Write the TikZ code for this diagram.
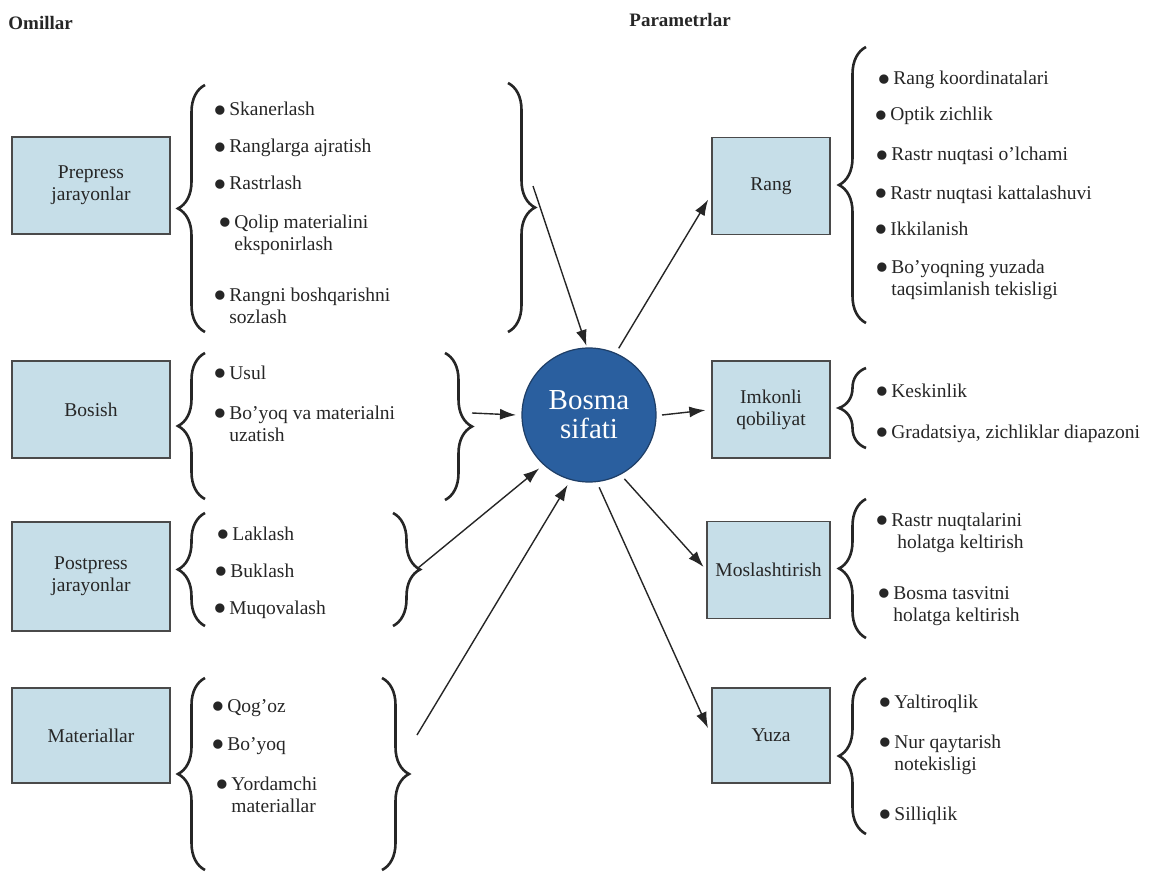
\documentclass[tikz,border=0pt]{standalone}
\usepackage{fontspec}
\setmainfont{Liberation Serif}
\usetikzlibrary{arrows.meta,decorations.pathreplacing}
\definecolor{ink}{HTML}{262626}
\definecolor{boxfill}{HTML}{C6DEE8}
\definecolor{boxline}{HTML}{4A4A4A}
\definecolor{hubblue}{HTML}{2A5F9F}
\definecolor{hubline}{HTML}{1E3E66}
\newcommand{\bul}{\llap{\raisebox{-3.6pt}{\scalebox{2}{\textbullet}}\hspace{1pt}}}
\tikzset{
  factbox/.style={draw=boxline, fill=boxfill, line width=0.7pt, minimum width=79pt,
                  minimum height=48.5pt, align=center, text=ink, inner sep=2pt,
                  font=\fontsize{9.75}{11}\selectfont},
  hub/.style={circle, draw=hubline, fill=hubblue, line width=0.6pt, minimum size=67pt,
              outer sep=3pt, align=center, text=white, font=\fontsize{14.5}{14.5}\selectfont},
  itm/.style={anchor=base west, align=left, inner sep=0pt, text=ink,
              font=\fontsize{9.75}{11}\selectfont},
  ttl/.style={anchor=base west, inner sep=0pt, text=ink, font=\fontsize{9.5}{11}\selectfont\bfseries},
  brc/.style={decorate, decoration={brace, amplitude=13.5pt}, line width=1.3pt, draw=ink},
  arr/.style={-{Latex[length=8pt,width=5.5pt]}, line width=0.7pt, draw=ink}}

\begin{document}
\begin{tikzpicture}[x=0.5pt, y=-0.5pt]
  \useasboundingbox (0,0) rectangle (1152,872);
  \node[ttl] (omil) at (8,30) {Omillar};
  \node[ttl] (param) at (629,27) {Parametrlar};

  \node[factbox] (pre) at (91,185.5) {Prepress\\jarayonlar};
  \node[factbox] (bos) at (91,409.5) {Bosish};
  \node[factbox, minimum height=54.5pt] (post) at (91,576.5) {Postpress\\jarayonlar};
  \node[factbox, minimum height=47.5pt] (mat) at (91,735.5) {Materiallar};
  \node[factbox, minimum width=59pt] (rang) at (771,186) {Rang};
  \node[factbox, minimum width=59pt] (imk) at (771,409.5) {Imkonli\\qobiliyat};
  \node[factbox, minimum width=61.5pt, inner sep=1pt] (mosl) at (768.5,570) {Moslashtirish};
  \node[factbox, minimum width=59pt, minimum height=47.5pt] (yuza) at (771,735.5) {Yuza};

  \node[hub] (q) at (589,415) {Bosma\\sifati};

  \draw[brc] (205,332) -- (205,85);
  \draw[brc] (508,83) -- (508,332);
  \draw[brc] (205,499) -- (205,353);
  \draw[brc] (445,353) -- (445,500);
  \draw[brc] (205,626) -- (205,513);
  \draw[brc] (393,513) -- (393,626);
  \draw[brc] (205,870) -- (205,678);
  \draw[brc] (382,678) -- (382,870);
  \draw[brc] (866,323) -- (866,47);
  \draw[brc] (866,448) -- (866,368);
  \draw[brc] (866,638) -- (866,499);
  \draw[brc] (866,834) -- (866,678);

  \node[itm] (pre1) at (229,116) {\bul Skanerlash};
  \node[itm] (pre2) at (229,153) {\bul Ranglarga ajratish};
  \node[itm] (pre3) at (229,190) {\bul Rastrlash};
  \node[itm] (pre4) at (234,250) {\bul Qolip materialini\\eksponirlash};
  \node[itm] (pre5) at (229,323) {\bul Rangni boshqarishni\\sozlash};
  \node[itm] (bos1) at (229,379) {\bul Usul};
  \node[itm] (bos2) at (229,441) {\bul Bo’yoq va materialni\\uzatish};
  \node[itm] (post1) at (232,540) {\bul Laklash};
  \node[itm] (post2) at (230,577) {\bul Buklash};
  \node[itm] (post3) at (229,614) {\bul Muqovalash};
  \node[itm] (mat1) at (227,712) {\bul Qog’oz};
  \node[itm] (mat2) at (227,750) {\bul Bo’yoq};
  \node[itm] (mat3) at (231,812) {\bul Yordamchi\\materiallar};

  \node[itm] (rang1) at (893,85) {\bul Rang koordinatalari};
  \node[itm] (rang2) at (890,121) {\bul Optik zichlik};
  \node[itm] (rang3) at (891,161) {\bul Rastr nuqtasi o’lchami};
  \node[itm] (rang4) at (890,199) {\bul Rastr nuqtasi kattalashuvi};
  \node[itm] (rang5) at (890,235) {\bul Ikkilanish};
  \node[itm] (rang6) at (891,295) {\bul Bo’yoqning yuzada\\taqsimlanish tekisligi};
  \node[itm] (imk1) at (891,397) {\bul Keskinlik};
  \node[itm] (imk2) at (891,438) {\bul Gradatsiya, zichliklar diapazoni};
  \node[itm] (mosl1) at (891,548) {\bul Rastr nuqtalarini\\\hspace*{3pt}holatga keltirish};
  \node[itm] (mosl2) at (893,621) {\bul Bosma tasvitni\\holatga keltirish};
  \node[itm] (yuza1) at (894,708) {\bul Yaltiroqlik};
  \node[itm] (yuza2) at (894,770) {\bul Nur qaytarish\\notekisligi};
  \node[itm] (yuza3) at (894,820) {\bul Silliqlik};

  \coordinate (preout) at (533,186);
  \coordinate (bosout) at (472,413);
  \coordinate (postout) at (418,568);
  \coordinate (matout) at (417,735);
  \draw[arr, shorten >=-2pt] (preout) -- (q.93);
  \draw[arr] (bosout) -- (q.180);
  \draw[arr] (postout) -- (q.227);
  \draw[arr] (matout) -- (q.253);
  \draw[arr, shorten >=3pt] (q.66) -- (rang.188);
  \draw[arr, shorten >=3pt] (q.0) -- (imk.west);
  \draw[arr, shorten >=2pt] (q.299) -- (mosl.west);
  \draw[arr, shorten >=4pt] (q.278) -- (yuza.west);
\end{tikzpicture}
\end{document}
